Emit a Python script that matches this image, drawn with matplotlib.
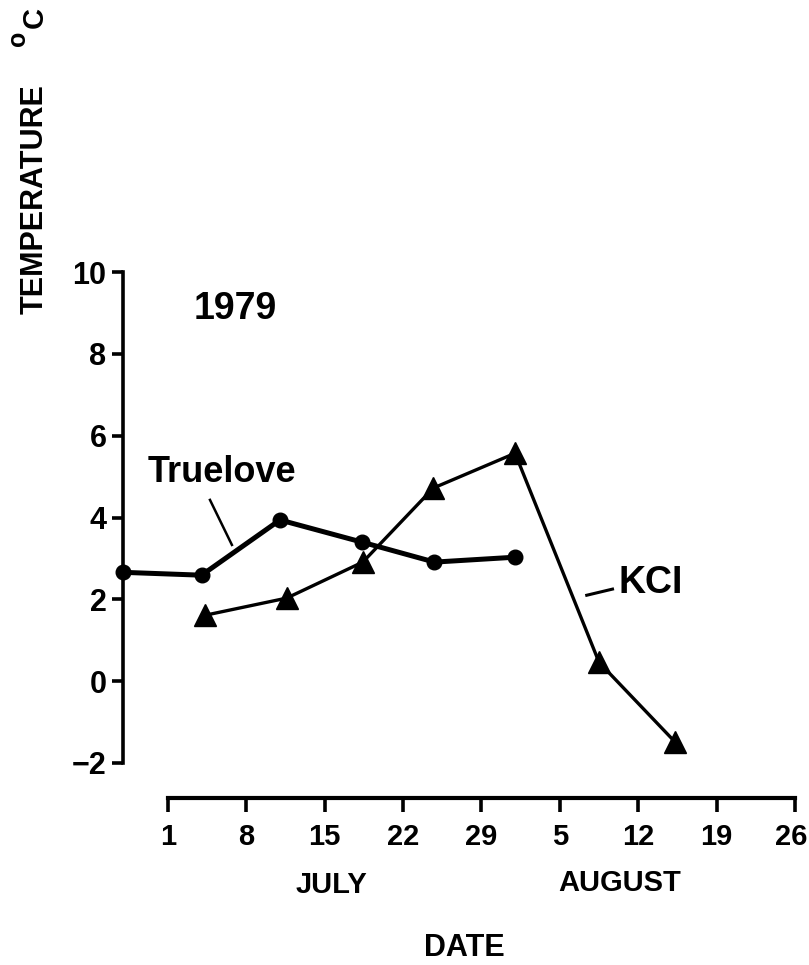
import matplotlib.pyplot as plt
from matplotlib.transforms import ScaledTranslation

plt.rcParams['font.family'] = ['Liberation Sans', 'DejaVu Sans']
plt.rcParams['font.weight'] = 'bold'

# ---- Data (day counted from July 1 = 1) ----
truelove_days = [-3, 4, 11, 18.3, 24.8, 32]
truelove_temp = [2.66, 2.59, 3.94, 3.40, 2.91, 3.03]

kcl_days = [4.3, 11.6, 18.4, 24.7, 32, 39.5, 46.3]
kcl_temp = [1.61, 2.03, 2.91, 4.72, 5.57, 0.46, -1.49]

y_ticks = [-2, 0, 2, 4, 6, 8, 10]
date_ticks = [1, 8, 15, 22, 29, 36, 43, 50, 57]
date_labels = ['1', '8', '15', '22', '29', '5', '12', '19', '26']

W, H = 809, 965
fig = plt.figure(figsize=(W / 100, H / 100), dpi=100)

def px(x, y):
    return x / W, 1 - y / H

# ---- Temperature axes ----
x0 = 123.2
x1 = 795.0
ax = fig.add_axes([x0 / W, (H - 763) / H, (x1 - x0) / W, (763 - 272) / H])
ax.set_xlim(-3, 57)
ax.set_ylim(-2, 10)
for s in ['top', 'right', 'bottom']:
    ax.spines[s].set_visible(False)
ax.spines['left'].set_linewidth(2.6)
ax.set_xticks([])
ax.set_yticks(y_ticks)
ax.set_yticklabels([str(v).replace('-', '\u2212') for v in y_ticks])
ax.tick_params(axis='y', length=8, width=2.6, pad=4, labelsize=22)
ax.patch.set_alpha(0)

ax.plot(truelove_days, truelove_temp, color='black', lw=3.6, marker='o',
        markersize=10.5, clip_on=False, zorder=3)
ax.plot(kcl_days, kcl_temp, color='black', lw=2.4, marker='^',
        markersize=16, clip_on=False, zorder=3)

ax.text(7.0, 9.1, '1979', fontsize=27, ha='center', va='center')
ax.text(5.8, 5.1, 'Truelove', fontsize=26, ha='center', va='center')
ax.plot([4.75, 6.71], [4.43, 3.33], color='black', lw=1.8)
ax.text(41.2, 2.40, 'KCI', fontsize=27, ha='left', va='center')
ax.plot([38.4, 40.7], [2.10, 2.25], color='black', lw=2.2)

# ---- Date axis ----
dax = fig.add_axes([x0 / W, (H - 798) / H, (x1 - x0) / W, 0.01])
dax.set_xlim(-3, 57)
dax.set_ylim(0, 1)
for s in ['top', 'right', 'left']:
    dax.spines[s].set_visible(False)
dax.spines['bottom'].set_linewidth(3)
dax.spines['bottom'].set_bounds(1, 57)
dax.set_yticks([])
dax.set_xticks(date_ticks)
dax.set_xticklabels(date_labels)
dax.tick_params(axis='x', length=10, width=2.6, pad=8, labelsize=21)
dax.patch.set_alpha(0)
last = dax.get_xticklabels()[-1]
last.set_transform(last.get_transform() + ScaledTranslation(-4 / 100, 0, fig.dpi_scale_trans))

fig.text(*px(331, 885), 'JULY', fontsize=21, ha='center', va='center')
fig.text(*px(620, 883), 'AUGUST', fontsize=21, ha='center', va='center')
fig.text(*px(464, 948), 'DATE', fontsize=22, ha='center', va='center')

fig.text(*px(35, 199), 'TEMPERATURE', fontsize=22, rotation=90,
         ha='center', va='center')
fig.text(*px(35, 18), 'C', fontsize=21, rotation=90, ha='center', va='center')
fig.text(*px(18, 38), 'o', fontsize=18, rotation=90, ha='center', va='center')

fig.savefig('out.png', dpi=100)
